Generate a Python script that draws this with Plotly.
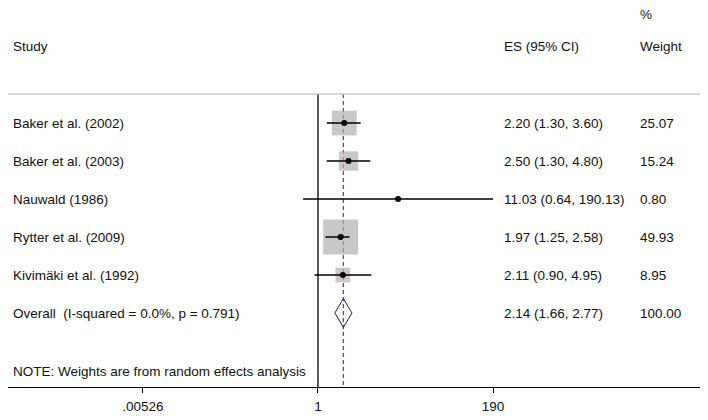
import numpy as np
import plotly.graph_objects as go

# study-level results
studies = ['Baker et al. (2002)', 'Baker et al. (2003)', 'Nauwald (1986)',
           'Rytter et al. (2009)', 'Kivimäki et al. (1992)']
es = [2.20, 2.50, 11.03, 1.97, 2.11]
ci_low = [1.30, 1.30, 0.64, 1.25, 0.90]
ci_high = [3.60, 4.80, 190.13, 2.58, 4.95]
weights = [25.07, 15.24, 0.80, 49.93, 8.95]

# pooled estimate
overall_label = 'Overall \u00a0(I-squared = 0.0%, p = 0.791)'
overall_es = 2.14
overall_low = 1.66
overall_high = 2.77
overall_weight = 100.00

note_text = 'NOTE: Weights are from random effects analysis'
tick_vals = [0.00526, 1, 190]
tick_text = ['.00526', '1', '190']

# page body adds an 8px offset, so the figure is 8px smaller each way
W, H = 700, 412
FONT = 'Liberation Sans, Arial, sans-serif'
TXT = '#111111'

rows = list(range(1, len(studies) + 1))
overall_row = len(studies) + 1
header_y = -1.0
pct_y = -1.86
rule_y = 0.24
note_y = 7.53
bottom_y = 7.947

fig = go.Figure()

# reference line at 1 and dashed line at the pooled estimate
fig.add_trace(go.Scatter(x=[1, 1], y=[rule_y, bottom_y], mode='lines',
                         line=dict(color='black', width=1.3), hoverinfo='skip'))
fig.add_trace(go.Scatter(x=[overall_es, overall_es], y=[rule_y, bottom_y], mode='lines',
                         line=dict(color='#923e52', width=1.3, dash='4px,3px'),
                         hoverinfo='skip'))

# weight boxes
fig.add_trace(go.Scatter(
    x=es, y=rows, mode='markers',
    marker=dict(symbol='square', size=[np.sqrt(w) * 4.95 for w in weights],
                color='#b0b0b0', line=dict(width=0)),
    hoverinfo='skip'))

# confidence intervals
ci_x, ci_y = [], []
for lo, hi, r in zip(ci_low, ci_high, rows):
    ci_x += [lo, hi, None]
    ci_y += [r, r, None]
fig.add_trace(go.Scatter(x=ci_x, y=ci_y, mode='lines',
                         line=dict(color='black', width=1.5), hoverinfo='skip'))

# point estimates
fig.add_trace(go.Scatter(x=es, y=rows, mode='markers',
                         marker=dict(color='black', size=6), hoverinfo='skip'))

# overall diamond
half_h = 0.38
fig.add_trace(go.Scatter(
    x=[overall_low, overall_es, overall_high, overall_es, overall_low],
    y=[overall_row, overall_row - half_h, overall_row, overall_row + half_h, overall_row],
    mode='lines', line=dict(color='#1e1e6e', width=1), hoverinfo='skip'))

# text columns
x_study = 3 / W
x_es = 494 / W
x_wt = 630 / W


def label(x, y, text):
    fig.add_annotation(x=x, y=y, xref='paper', yref='y', text=text,
                       showarrow=False, xanchor='left', yanchor='middle',
                       font=dict(family=FONT, size=13.5, color=TXT))


label(x_wt, pct_y, '%')
label(x_study, header_y, 'Study')
label(x_es, header_y, 'ES (95% CI)')
label(x_wt, header_y, 'Weight')

for name, e, lo, hi, w, r in zip(studies, es, ci_low, ci_high, weights, rows):
    label(x_study, r, name)
    label(x_es, r, f'{e:.2f} ({lo:.2f}, {hi:.2f})')
    label(x_wt, r, f'{w:.2f}')

label(x_study, overall_row, overall_label)
label(x_es, overall_row, f'{overall_es:.2f} ({overall_low:.2f}, {overall_high:.2f})')
label(x_wt, overall_row, f'{overall_weight:.2f}')
label(x_study, note_y, note_text)

# thin grey rule under the headers
fig.add_shape(type='line', xref='paper', yref='y', x0=0, x1=0.991,
              y0=rule_y, y1=rule_y, line=dict(color='#c8c8c8', width=1.5))

fig.update_layout(
    width=W, height=H,
    margin=dict(l=0, r=0, t=0, b=33),
    plot_bgcolor='white', paper_bgcolor='white',
    showlegend=False,
    xaxis=dict(type='log', range=[-4.036, 5.078],
               tickvals=tick_vals, ticktext=tick_text,
               ticks='outside', ticklen=5, tickwidth=1.3, tickcolor='black',
               ticklabelstandoff=2,
               showline=True, linecolor='black', linewidth=1.3,
               showgrid=False, zeroline=False,
               tickfont=dict(family=FONT, size=13.5, color=TXT)),
    yaxis=dict(range=[bottom_y, -2.026], visible=False, showgrid=False,
               zeroline=False),
)

fig.write_html('out.html')
